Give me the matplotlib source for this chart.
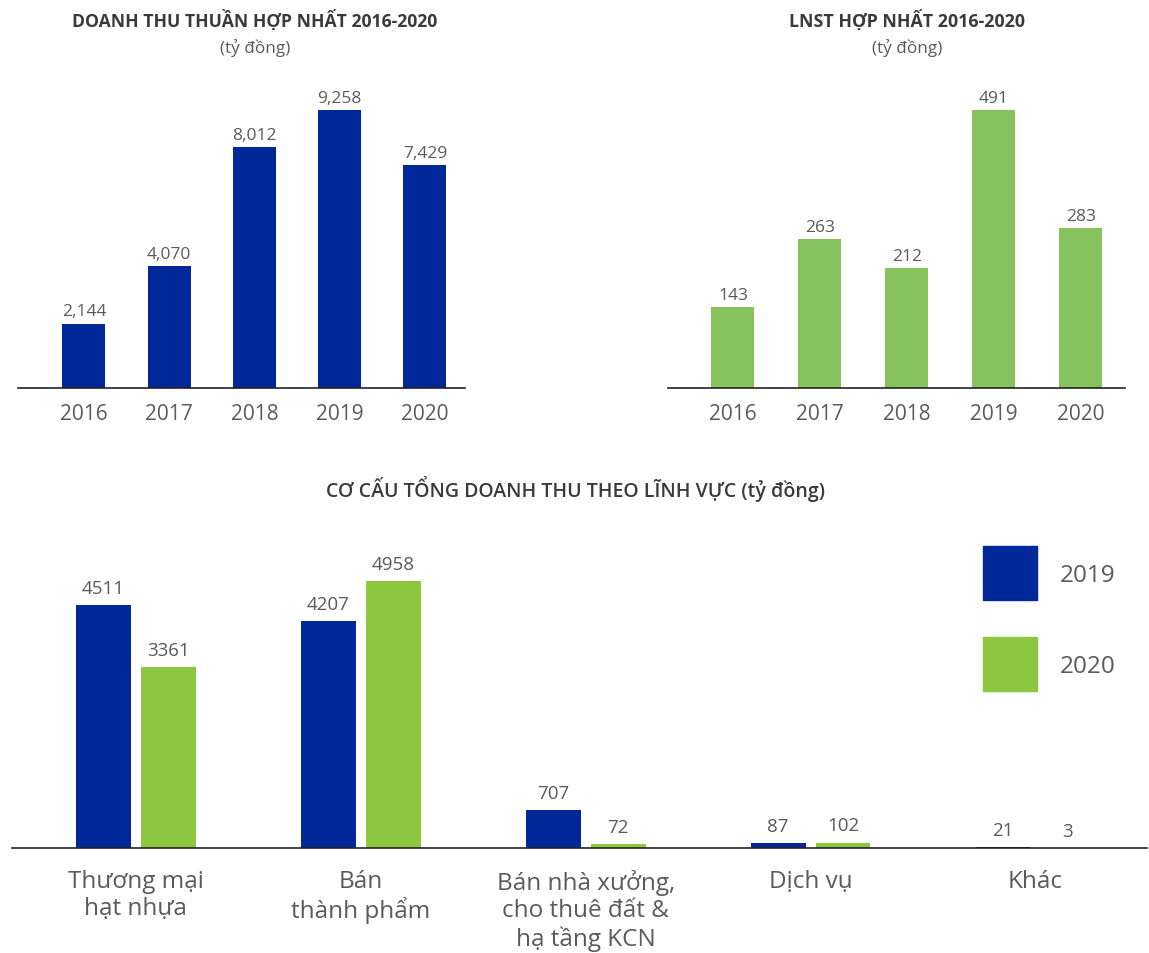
import matplotlib
matplotlib.use("Agg")
import numpy as np
import matplotlib.pyplot as plt
from matplotlib.patches import Rectangle

plt.rcParams['font.family'] = ['Open Sans', 'DejaVu Sans']

# Dữ liệu
years = ['2016', '2017', '2018', '2019', '2020']
doanh_thu = [2144, 4070, 8012, 9258, 7429]
lnst = [143, 263, 212, 491, 283]

linh_vuc = ['Thương mại\nhạt nhựa', 'Bán\nthành phẩm',
            'Bán nhà xưởng,\ncho thuê đất &\nhạ tầng KCN', 'Dịch vụ', 'Khác']
dt_2019 = [4511, 4207, 707, 87, 21]
dt_2020 = [3361, 4958, 72, 102, 3]
nam_so_sanh = ['2019', '2020']

BLUE = '#002899'
GREEN_TOP = '#86C35E'
GREEN = '#8DC63F'
TXT = '#5a5a5a'
TITLE = '#3a3a3a'

W, H = 1149, 954
fig = plt.figure(figsize=(W / 100, H / 100), dpi=100)


def px_axes(x0, y_top, x1, y_base):
    # tạo trục theo toạ độ pixel (gốc trên-trái)
    return fig.add_axes([x0 / W, 1 - y_base / H, (x1 - x0) / W, (y_base - y_top) / H])


def style(ax):
    for s in ['top', 'right', 'left']:
        ax.spines[s].set_visible(False)
    ax.spines['bottom'].set_color('#222222')
    ax.spines['bottom'].set_linewidth(1.2)
    ax.set_yticks([])
    ax.tick_params(axis='x', length=0)


# --- Doanh thu thuần ---
ax1 = px_axes(18, 100, 465, 389)
x = np.arange(len(years))
b1 = ax1.bar(x, doanh_thu, width=0.504, color=BLUE)
ax1.set_xlim(-0.774, 4.47)
ax1.set_ylim(0, 9258 * 289 / 278)
style(ax1)
ax1.set_xticks(x)
ax1.set_xticklabels(years, fontsize=15, color=TXT)
ax1.tick_params(axis='x', pad=11)
ax1.bar_label(b1, labels=[f'{v:,}' for v in doanh_thu], padding=3, fontsize=12.5, color=TXT)
fig.text(255 / W, 1 - 20 / H, 'DOANH THU THUẦN HỢP NHẤT 2016-2020', ha='center', va='center',
         fontsize=12.7, fontweight='bold', color=TITLE)
fig.text(255 / W, 1 - 48 / H, '(tỷ đồng)', ha='center', va='center', fontsize=12.3, color=TXT)

# --- LNST ---
ax2 = px_axes(668, 100, 1125, 389)
b2 = ax2.bar(x, lnst, width=0.494, color=GREEN_TOP)
ax2.set_xlim(-0.747, 4.506)
ax2.set_ylim(0, 491 * 289 / 278)
style(ax2)
ax2.set_xticks(x)
ax2.set_xticklabels(years, fontsize=15, color=TXT)
ax2.tick_params(axis='x', pad=11)
ax2.bar_label(b2, padding=3, fontsize=12.5, color=TXT)
fig.text(907 / W, 1 - 20 / H, 'LNST HỢP NHẤT 2016-2020', ha='center', va='center',
         fontsize=12.8, fontweight='bold', color=TITLE)
fig.text(907 / W, 1 - 48 / H, '(tỷ đồng)', ha='center', va='center', fontsize=12.3, color=TXT)

# --- Cơ cấu doanh thu theo lĩnh vực ---
ax3 = px_axes(12, 540, 1147, 849)
xc = np.arange(len(linh_vuc))
off, bw = 0.1444, 0.244
b3 = ax3.bar(xc - off, dt_2019, width=bw, color=BLUE)
b4 = ax3.bar(xc + off, dt_2020, width=bw, color=GREEN)
ax3.set_xlim(-0.551, 4.496)
ax3.set_ylim(0, 4958 * 309 / 267)
style(ax3)
ax3.set_xticks(xc)
ax3.set_xticklabels(linh_vuc, fontsize=17.5, color=TXT, linespacing=1.17)
ax3.tick_params(axis='x', pad=15)
ax3.bar_label(b3, padding=6, fontsize=13.5, color=TXT)
ax3.bar_label(b4, padding=6, fontsize=13.5, color=TXT)
fig.text(575 / W, 1 - 489 / H, 'CƠ CẤU TỔNG DOANH THU THEO LĨNH VỰC (tỷ đồng)', ha='center',
         va='center', fontsize=14, fontweight='semibold', color=TITLE)

# chú thích: ô màu + năm
for i, (nam, mau) in enumerate(zip(nam_so_sanh, [BLUE, GREEN])):
    top = 547 + i * 91
    fig.add_artist(Rectangle((983 / W, 1 - (top + 54) / H), 54 / W, 54 / H,
                             transform=fig.transFigure, color=mau))
    fig.text(1060 / W, 1 - (top + 29) / H, nam, ha='left', va='center',
             fontsize=17.5, color=TXT)

fig.savefig('out.png', dpi=100)
